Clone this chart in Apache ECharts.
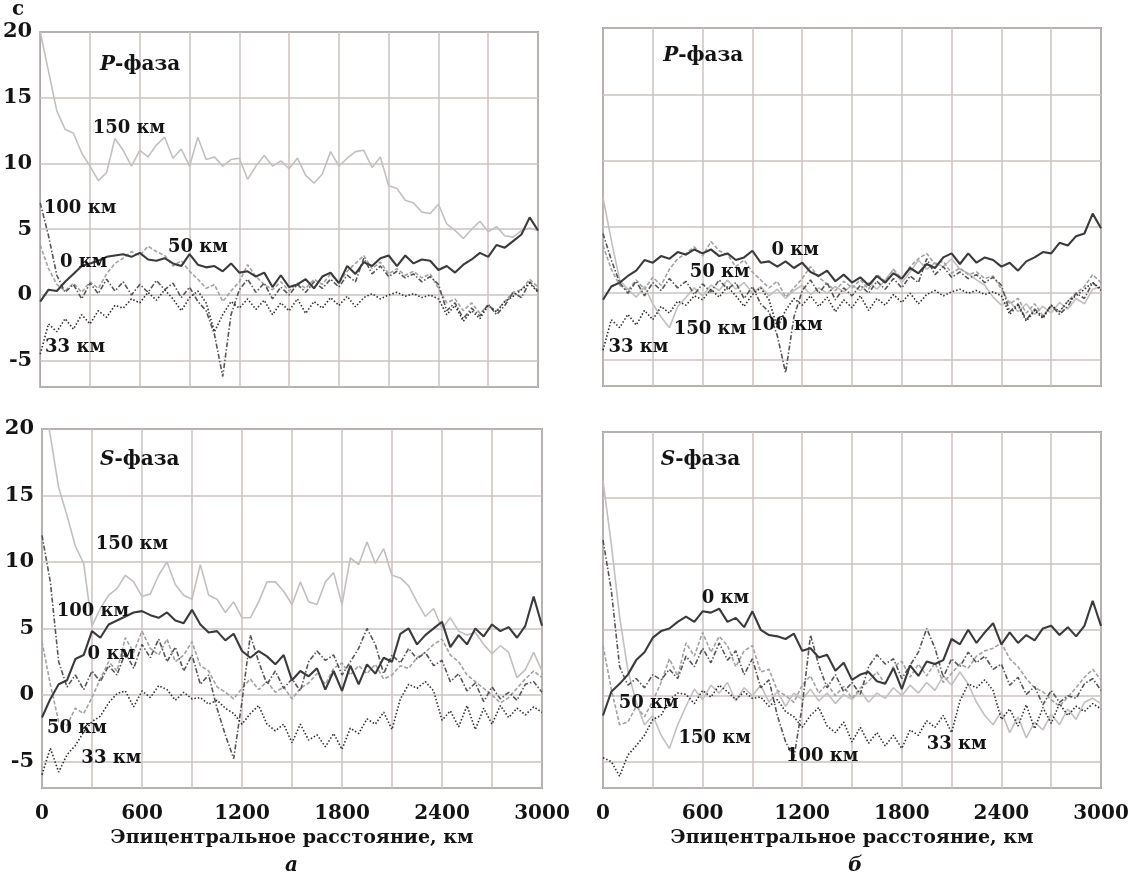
<!DOCTYPE html>
<html>
<head>
<meta charset="utf-8">
<title>Невязки времён пробега P- и S-фаз</title>
<script src="https://cdn.jsdelivr.net/npm/echarts@6/dist/echarts.min.js"></script>
<style>
html, body { margin: 0; padding: 0; background: #fff; }
#chart { width: 1134px; height: 896px; }
</style>
</head>
<body>
<div id="chart"></div>
<script>
// эпицентральное расстояние, км
const dist = [
  0, 50, 100, 150, 200, 250, 300, 350, 400, 450,
  500, 550, 600, 650, 700, 750, 800, 850, 900, 950,
  1000, 1050, 1100, 1150, 1200, 1250, 1300, 1350, 1400, 1450,
  1500, 1550, 1600, 1650, 1700, 1750, 1800, 1850, 1900, 1950,
  2000, 2050, 2100, 2150, 2200, 2250, 2300, 2350, 2400, 2450,
  2500, 2550, 2600, 2650, 2700, 2750, 2800, 2850, 2900, 2950,
  3000
]
const xTicks = [0, 600, 1200, 1800, 2400, 3000]
const yTicks = [-5, 0, 5, 10, 15, 20]

// а, P-фаза
const aP150 = [
  20, 17, 14, 12.6, 12.3, 10.8, 9.8, 8.7, 9.3, 11.9,
  11.0, 9.8, 11.0, 10.5, 11.4, 12.0, 10.4, 11.1, 9.8, 12.0,
  10.3, 10.5, 9.8, 10.3, 10.4, 8.8, 9.8, 10.6, 9.8, 10.2,
  9.6, 10.4, 9.1, 8.5, 9.2, 10.9, 9.8, 10.4, 10.9, 11.0,
  9.7, 10.5, 8.3, 8.1, 7.2, 7.0, 6.3, 6.2, 6.9, 5.4,
  4.9, 4.3, 5.0, 5.6, 4.8, 5.2, 4.5, 4.4, 4.9, 5.1,
  4.9
]
const aP0 = [
  -0.5, 0.4, 0.3, 1.0, 1.6, 2.2, 2.4, 2.6, 2.9, 3.0,
  3.1, 2.9, 3.2, 2.7, 2.6, 2.8, 2.4, 2.2, 3.1, 2.3,
  2.1, 2.2, 1.8, 2.4, 1.7, 1.8, 1.4, 1.7, 0.6, 1.5,
  0.6, 0.8, 1.2, 0.5, 1.4, 1.7, 0.9, 2.2, 1.6, 2.5,
  2.2, 2.8, 3.0, 2.2, 3.0, 2.4, 2.7, 2.6, 1.9, 2.2,
  1.7, 2.3, 2.7, 3.2, 2.9, 3.8, 3.6, 4.1, 4.6, 5.9,
  4.9
]
const aP50 = [
  3.8, 2.0, 0.8, 0.3, 0.9, 0.2, 1.0, 0.5, 1.6, 2.4,
  2.8, 3.3, 3.0, 3.7, 3.3, 3.0, 2.2, 2.6, 1.8, 1.2,
  0.5, 0.8, -0.5, 0.3, 1.0, 2.3, 1.4, 0.8, 0.4, 1.0,
  0.3, 0.9, 0.5, 1.2, 0.8, 1.6, 0.9, 1.8, 2.4, 3.0,
  2.0, 2.5, 1.6, 2.0, 1.5, 1.8, 1.3, 1.6, 0.5, -0.6,
  -0.3, -1.2, -0.6, -1.4, -0.8, -1.2, -0.5, 0.2, 0.4, 1.2,
  0.6
]
const aP100 = [
  7.0, 4.5, 1.5, 0.2, 0.8, -0.3, 0.9, 0.1, 1.2, 0.3,
  1.0, 0.0, 0.8, 0.2, 1.1, 0.4, 0.9, -0.2, 0.6, -0.5,
  -1.2, -3.0, -6.2, -1.5, 0.4, 1.2, 0.2, 0.9, -0.3, 0.6,
  0.0, 0.8, 0.2, 1.0, 0.5, 1.2, 0.6, 1.5, 1.0, 2.8,
  1.6, 2.2, 1.4, 1.8, 1.3, 1.6, 1.0, 1.4, 0.8, -1.2,
  -0.6, -1.8, -1.0, -1.6, -0.7, -1.5, -0.8, 0.2, -0.2, 1.0,
  0.3
]
const aP33 = [
  -4.5, -2.2, -2.8, -1.8, -2.6, -1.5, -2.2, -1.2, -1.7, -0.8,
  -1.0, -0.3, -0.6, 0.2, -0.4, 0.4, -0.3, -1.2, -0.2, 0.3,
  -0.6, -2.8, -1.5, -0.5, -1.0, -0.3, -1.1, -0.4, -1.5, -0.6,
  -1.2, -0.3, -1.4, -0.5, -1.0, -0.2, -0.8, -0.1, -0.9, -0.2,
  0.1, -0.3, 0.0, 0.2, -0.1, 0.1, -0.2, 0.0, -0.3, -1.5,
  -0.8, -2.0, -1.2, -1.8, -0.8, -1.3, -0.5, -0.1, 0.4, 0.9,
  0.2
]

// б, P-фаза
const bP150 = [
  7.2, 4.0, 1.0, 0.3, -0.3, 0.5, -0.8, -1.8, -2.6, -1.0,
  -0.3, 0.4, -0.2, 0.6, 0.2, 1.0, 0.3, 0.8, 0.0, 0.5,
  -0.2, 0.3, -0.4, 0.2, 0.6, -0.1, 0.4, 0.0, 0.5, 0.1,
  0.6, 0.2, 0.8, 0.3, 1.0, 1.8, 0.8, 1.6, 2.5, 1.8,
  2.3, 2.0, 2.6, 1.8, 1.5, 1.0, 0.6, -0.3, -0.9, -0.6,
  -1.4, -0.8, -1.6, -1.0, -1.5, -0.7, -1.2, -0.4, -0.8, 0.3,
  0.5
]
const bP0 = [
  -0.5, 0.5, 0.8, 1.3, 1.7, 2.5, 2.3, 2.8, 2.6, 3.1,
  2.9, 3.3, 3.0, 3.3, 2.8, 3.0, 2.5, 2.7, 3.2, 2.3,
  2.4, 2.0, 2.4, 1.9, 2.3, 1.6, 1.3, 1.7, 0.9, 1.4,
  0.8, 1.2, 0.6, 1.3, 0.8, 1.5, 1.1, 1.9, 1.5, 2.2,
  1.9, 2.7, 3.0, 2.2, 3.0, 2.3, 2.7, 2.5, 2.0, 2.3,
  1.7, 2.4, 2.7, 3.1, 3.0, 3.8, 3.6, 4.3, 4.5, 6.0,
  4.9
]
const bP50 = [
  3.6, 1.8, 0.6, 0.2, 1.0, 0.3, 1.2, 0.6, 1.8, 2.6,
  3.0, 3.5, 2.8, 3.9, 3.2, 2.9, 2.0, 2.5, 1.6, 1.0,
  0.4, 0.9, -0.3, 0.4, 1.1, 2.0, 1.2, 0.7, 0.2, 0.9,
  0.4, 1.0, 0.3, 1.4, 0.9, 1.8, 1.1, 2.0, 2.6, 3.0,
  2.2, 2.4, 1.5, 1.9, 1.4, 1.6, 1.1, 1.3, 0.3, -0.8,
  -0.4, -1.5, -0.8, -1.7, -1.0, -1.4, -0.6, 0.0, 0.5, 1.4,
  0.8
]
const bP100 = [
  4.5, 2.5, 0.8, 0.0, 0.9, -0.2, 0.8, 0.2, 1.1, 0.4,
  0.9, -0.1, 0.7, 0.1, 1.0, 0.3, 0.8, -0.4, 0.5, -0.8,
  -1.4, -3.2, -6.0, -1.8, 0.2, 1.0, 0.0, 0.8, -0.5, 0.4,
  -0.2, 0.6, 0.0, 0.9, 0.3, 1.1, 0.4, 1.3, 0.8, 2.6,
  1.4, 2.0, 1.2, 1.6, 1.1, 1.4, 0.8, 1.2, 0.6, -1.4,
  -0.8, -2.0, -1.2, -1.8, -0.9, -1.6, -1.0, 0.0, -0.4, 0.8,
  0.2
]
const bP33 = [
  -4.3, -2.0, -2.6, -1.6, -2.4, -1.3, -2.0, -1.0, -1.5, -0.6,
  -0.9, -0.2, -0.5, 0.3, -0.3, 0.5, -0.2, -1.0, -0.1, 0.4,
  -0.5, -2.6, -1.3, -0.4, -0.9, -0.2, -1.0, -0.3, -1.4, -0.5,
  -1.1, -0.2, -1.3, -0.4, -0.9, -0.1, -0.7, 0.0, -0.8, -0.1,
  0.2, -0.2, 0.1, 0.3, 0.0, 0.2, -0.1, 0.1, -0.2, -1.6,
  -0.9, -2.1, -1.3, -1.9, -0.9, -1.4, -0.6, -0.2, 0.3, 0.8,
  0.3
]

// а, S-фаза
const aS150 = [
  23, 19.5, 15.6, 13.5, 11.2, 9.9, 5.2, 6.5, 7.5, 8.0,
  9.0, 8.5, 7.4, 7.6, 9.0, 10.0, 8.3, 7.5, 7.2, 9.8,
  7.5, 7.2, 6.2, 7.0, 5.8, 5.8, 7.0, 8.5, 8.5, 7.8,
  6.8, 8.5, 7.0, 6.8, 8.5, 9.2, 6.8, 10.3, 9.8, 11.5,
  9.9, 11.0, 9.0, 8.8, 8.2, 7.0, 5.9, 6.5, 5.0, 5.8,
  4.8, 4.5, 4.7, 3.8, 3.1, 3.7, 3.2, 1.3, 1.9, 3.2,
  1.8
]
const aS0 = [
  -1.7, -0.3, 0.8, 1.1, 2.7, 3.0, 4.8, 4.3, 5.3, 5.6,
  5.9, 6.2, 6.3, 6.0, 5.8, 6.2, 5.6, 5.4, 6.4, 5.3,
  4.7, 4.8, 4.1, 4.6, 3.3, 2.8, 3.3, 2.9, 2.3, 3.0,
  1.1, 1.8, 1.4, 2.0, 0.4, 1.8, 0.3, 2.2, 0.8, 2.3,
  1.6, 2.8, 2.5, 4.6, 5.0, 3.8, 4.5, 5.0, 5.5, 3.6,
  4.5, 3.8, 5.0, 4.4, 5.3, 4.8, 5.1, 4.3, 5.2, 7.4,
  5.2
]
const aS50 = [
  4.0, 0.8, -2.0, -2.3, -1.0, -1.4, -0.2, 1.2, 2.5, 1.8,
  4.3, 3.2, 4.8, 3.5, 3.0, 4.2, 2.5, 3.0, 4.0, 2.2,
  1.8, 0.6, 0.2, -0.3, 0.5, 1.2, 0.4, 1.0, 0.2, 0.6,
  -0.3, 0.5, 0.9, 1.6, 0.8, 2.0, 2.4, 1.5, 2.2, 1.6,
  2.3, 1.2, 1.5, 2.2, 2.0, 2.8, 3.2, 3.8, 4.2, 3.0,
  2.5, 1.5, 1.0, 0.5, 0.0, -0.6, -0.2, 0.5, 1.2, 1.8,
  1.3
]
const aS100 = [
  12.0, 8.5, 2.5, 0.6, 1.5, 0.4, 1.8, 1.0, 2.2, 1.5,
  3.2, 2.0, 3.8, 2.8, 4.2, 2.5, 3.6, 1.8, 3.0, 0.8,
  1.5, -1.0, -3.0, -4.8, -0.5, 4.5, 2.5, 0.8, 1.8, 0.5,
  1.2, 0.3, 2.5, 3.3, 2.6, 3.0, 1.5, 2.5, 3.5, 5.0,
  3.8, 1.6, 3.0, 2.4, 3.5, 2.7, 3.2, 2.2, 2.6, 1.0,
  1.6, 0.3, 0.9, -0.5, 0.6, -0.3, 0.2, -0.4, 0.8, 1.0,
  0.2
]
const aS33 = [
  -6.0, -4.0, -5.8, -4.5, -3.8, -2.8, -2.0, -1.6, -0.6, 0.1,
  0.3, -0.9, 0.3, -0.2, 0.7, 0.4, -0.4, 0.2, -0.3, -0.2,
  -0.7, -0.4, -1.0, -1.4, -2.2, -1.4, -0.8, -2.2, -2.7, -2.2,
  -3.6, -2.2, -3.4, -3.0, -3.9, -2.9, -4.1, -2.5, -2.9, -1.8,
  -2.2, -1.3, -2.6, -0.3, 0.8, 0.5, 1.0, 0.3, -1.9, -1.2,
  -2.4, -0.8, -2.6, -1.0, -2.2, -0.8, -1.7, -1.0, -1.5, -0.9,
  -1.3
]

// б, S-фаза
const bS150 = [
  16.3, 11.5, 6.0, 1.9, -0.5, -2.2, -1.5, -3.0, -4.0, -2.2,
  -0.8, 0.5, -0.3, 0.8, 0.2, 1.0, -0.4, 0.6, 0.0, 0.8,
  -0.5, 0.3, -0.8, 0.2, -0.3, 0.5, -0.4, 0.2, -0.6, 0.1,
  -0.3, 0.4, -0.5, 0.2, -0.2, 0.6, 0.0, 0.8, 0.2, 1.0,
  0.4, 1.5, 0.8, 1.8, 0.9, -0.5, -1.5, -2.2, -1.2, -2.8,
  -1.6, -3.2, -2.0, -2.6, -1.4, -2.2, -1.0, -1.8, -0.5, -0.2,
  -0.6
]
const bS0 = [
  -1.5, 0.3, 0.9, 1.6, 2.7, 3.3, 4.4, 4.9, 5.1, 5.6,
  6.0, 5.6, 6.4, 6.3, 6.6, 5.6, 5.9, 5.2, 6.4, 5.0,
  4.6, 4.5, 4.3, 4.7, 3.4, 3.6, 2.9, 3.1, 1.9, 2.5,
  1.2, 1.6, 1.8, 1.1, 0.9, 2.1, 0.5, 2.3, 1.5, 2.6,
  2.4, 2.7, 4.3, 3.9, 5.0, 4.0, 4.8, 5.5, 3.9, 4.8,
  4.0, 4.6, 4.2, 5.1, 5.3, 4.6, 5.2, 4.5, 5.3, 7.2,
  5.3
]
const bS50 = [
  3.8, 0.5, -2.2, -2.0, -0.8, -1.6, -0.4, 1.0, 2.8, 1.5,
  4.0, 3.0, 4.8, 3.3, 4.5, 3.8, 2.2, 3.4, 3.8, 1.8,
  2.0, 0.4, 0.0, -0.5, 0.8, 1.5, 0.2, 0.9, 0.0, 0.7,
  -0.2, 0.6, 1.1, 1.8, 0.9, 2.2, 2.6, 1.4, 2.4, 1.5,
  2.5, 1.0, 1.7, 2.4, 2.1, 3.0, 3.4, 3.6, 4.0, 2.8,
  2.2, 1.3, 0.6, 0.3, -0.3, -0.8, -0.1, 0.6, 1.4, 2.0,
  1.2
]
const bS100 = [
  11.8, 8.0, 2.2, 0.8, 1.3, 0.6, 1.6, 1.2, 2.0, 1.3,
  3.0, 2.2, 3.6, 2.5, 4.0, 2.7, 3.4, 1.6, 2.8, 0.6,
  1.2, -1.5, -3.5, -4.7, -0.8, 4.6, 2.3, 0.6, 1.6, 0.3,
  1.0, 0.1, 2.2, 3.1, 2.4, 2.8, 1.3, 2.3, 3.3, 5.1,
  3.6, 1.4, 2.8, 2.2, 3.3, 2.5, 3.0, 2.0, 2.4, 0.8,
  1.4, 0.1, 0.7, -0.7, 0.4, -0.5, 0.0, -0.2, 0.9, 1.3,
  0.4
]
const bS33 = [
  -4.7, -5.0, -6.1, -4.5, -3.8, -3.0, -1.8, -1.5, -0.3, 0.2,
  0.1, -0.6, 0.4, -0.1, 0.8, 0.3, -0.3, 0.3, -0.2, -0.1,
  -0.8, -0.3, -1.2, -1.6, -2.4, -1.5, -0.9, -2.3, -2.8, -2.0,
  -3.5, -2.4, -3.6, -2.8, -3.8, -3.0, -4.0, -2.6, -3.0, -1.9,
  -2.4, -1.5, -2.8, -0.4, 0.9, 0.6, 1.2, 0.4, -1.8, -1.0,
  -2.3, -0.7, -2.5, -0.9, -2.1, -0.6, -1.5, -0.8, -1.2, -0.6,
  -1.0
]

// подписи кривых: [текст, км, с]
const notesAP = [['150 км', 535, 12.7], ['100 км', 240, 6.6], ['50 км', 950, 3.6], ['0 км', 262, 2.45], ['33 км', 210, -3.95]]
const notesBP = [['0 км', 1158, 3.2], ['50 км', 703, 1.6], ['150 км', 644, -2.7], ['100 км', 1105, -2.45], ['33 км', 213, -4.1]]
const notesAS = [['150 км', 540, 11.3], ['100 км', 306, 6.3], ['0 км', 416, 3.05], ['50 км', 210, -2.5], ['33 км', 416, -4.75]]
const notesBS = [['0 км', 737, 7.35], ['50 км', 275, -0.6], ['150 км', 673, -3.2], ['100 км', 1320, -4.6], ['33 км', 2131, -3.7]]

const FONT = 'DejaVu Serif'
const INK = '#141414'
const GRIDLINE = '#cdc2c1'

// стили линий по глубине
const depthStyle = {
  150: { color: '#c4bfbf', width: 1.6, type: 'solid' },
  50: { color: '#a2a2a2', width: 1.6, type: [4, 2] },
  100: { color: '#555555', width: 1.6, type: [5, 2, 1.5, 2] },
  33: { color: '#2e2e2e', width: 1.6, type: [1.5, 2] },
  0: { color: '#3a3a3a', width: 2.1, type: 'solid' }
}
const drawOrder = [150, 50, 100, 33, 0]

const panels = [
  { phase: 'P', title: [602, 17.5], notes: notesAP, lines: { 150: aP150, 50: aP50, 100: aP100, 33: aP33, 0: aP0 } },
  { phase: 'P', title: [604, 17.9], notes: notesBP, lines: { 150: bP150, 50: bP50, 100: bP100, 33: bP33, 0: bP0 } },
  { phase: 'S', title: [586, 17.7], notes: notesAS, lines: { 150: aS150, 50: aS50, 100: aS100, 33: aS33, 0: aS0 } },
  { phase: 'S', title: [587, 17.9], notes: notesBS, lines: { 150: bS150, 50: bS50, 100: bS100, 33: bS33, 0: bS0 } }
]

const grids = [
  { left: 40, top: 32, width: 498, height: 355 },
  { left: 603, top: 28, width: 498, height: 358 },
  { left: 42, top: 429, width: 500, height: 359 },
  { left: 603, top: 432, width: 498, height: 356 }
].map(g => Object.assign(g, { show: true, borderColor: '#555', borderWidth: 1.5 }))

const labelFont = { fontFamily: FONT, fontWeight: 'bold', color: INK }

const xAxes = grids.map((g, i) => ({
  type: 'value', gridIndex: i, min: 0, max: 3000, interval: 300,
  axisLine: { show: false }, axisTick: { show: false },
  splitLine: { show: true, lineStyle: { color: GRIDLINE, width: 1.5 } },
  axisLabel: {
    show: i >= 2, margin: 16, fontSize: 20, ...labelFont,
    formatter: v => xTicks.includes(v) ? String(v) : ''
  },
  name: i >= 2 ? 'Эпицентральное расстояние, км' : '',
  nameLocation: 'middle', nameGap: 41,
  nameTextStyle: { fontSize: 19, ...labelFont }
}))

const yAxes = grids.map((g, i) => ({
  type: 'value', gridIndex: i, min: -7, max: 20, splitNumber: 5,
  axisLine: { show: false }, axisTick: { show: false },
  splitLine: { show: true, lineStyle: { color: GRIDLINE, width: 1.5 } },
  axisLabel: {
    show: i % 2 === 0, margin: 8, fontSize: 21, ...labelFont,
    formatter: v => yTicks.includes(v) ? String(v) : ''
  }
}))

const series = []
panels.forEach((p, i) => {
  drawOrder.forEach(depth => {
    const st = depthStyle[depth]
    series.push({
      type: 'line', xAxisIndex: i, yAxisIndex: i, name: depth + ' км',
      showSymbol: false, silent: true, clip: true,
      lineStyle: { color: st.color, width: st.width, type: st.type },
      data: dist.map((d, k) => [d, p.lines[depth][k]])
    })
  })
  // подписи
  const items = p.notes.map(([text, x, y]) => ({ value: [x, y], name: text }))
  items.push({
    value: p.title, name: p.phase,
    label: { formatter: '{i|' + p.phase + '}{n|-фаза}', rich: {
      i: { fontFamily: FONT, fontStyle: 'italic', fontWeight: 'bold', fontSize: 20, color: INK },
      n: { fontFamily: FONT, fontWeight: 'bold', fontSize: 20, color: INK }
    } }
  })
  series.push({
    type: 'scatter', xAxisIndex: i, yAxisIndex: i, symbolSize: 0, silent: true, z: 10,
    itemStyle: { opacity: 1 },
    label: { show: true, position: 'inside', formatter: '{b}', fontSize: 18, ...labelFont },
    data: items
  })
})

const chart = echarts.init(document.getElementById('chart'))
chart.setOption({
  animation: false,
  backgroundColor: '#fff',
  grid: grids,
  xAxis: xAxes,
  yAxis: yAxes,
  series: series,
  graphic: [
    { type: 'text', left: 12, top: 0, style: { text: 'с', font: 'bold 20px "DejaVu Serif"', fill: INK } },
    { type: 'text', left: 285, top: 856, style: { text: 'а', font: 'italic bold 20px "DejaVu Serif"', fill: INK } },
    { type: 'text', left: 848, top: 856, style: { text: 'б', font: 'italic bold 20px "DejaVu Serif"', fill: INK } }
  ]
})
</script>
</body>
</html>
